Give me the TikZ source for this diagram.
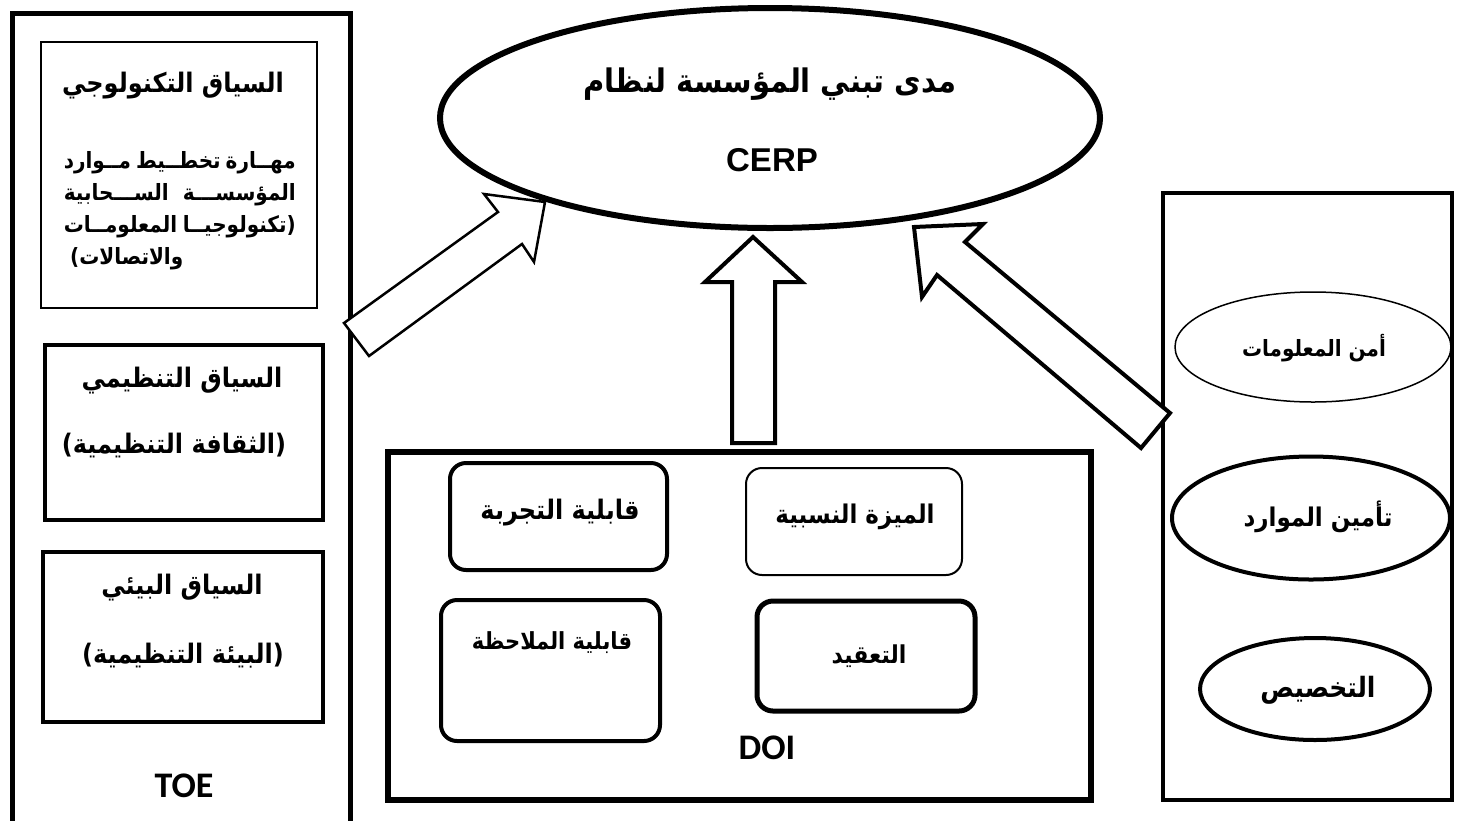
\documentclass[tikz,border=0pt]{standalone}
\usepackage{fontspec}
\setmainfont{Liberation Sans}
\newfontfamily\arfont[Script=Arabic]{DejaVu Sans}
\newfontfamily\calfont{Carlito}
\TeXXeTstate=1
\usetikzlibrary{shapes.geometric}
\newcommand\artxt[1]{\scalebox{1}[1.12]{\beginR #1\endR}}
\newcommand\arjust[1]{\scalebox{1}[1.12]{\hbox to 232pt{\beginR #1\endR}}}
\tikzset{
  boxframe/.style={draw, rectangle, inner sep=0pt},
  roundbox/.style={draw, rectangle, rounded corners=16pt, inner sep=0pt, minimum width=#1},
  oval/.style={draw, ellipse, inner sep=0pt},
  blockarrow/.style={draw, line join=miter, fill=white},
  ar/.style={font=\arfont\bfseries\fontsize{#1}{#1}\selectfont, inner sep=0pt},
  lat/.style={font=\bfseries\fontsize{#1}{#1}\selectfont, inner sep=0pt},
  cal/.style={font=\calfont\bfseries\fontsize{#1}{#1}\selectfont, inner sep=0pt},
}
\begin{document}
\begin{tikzpicture}[x=1pt,y=-1pt]
\useasboundingbox (0,0) rectangle (1458,820);
\fill[white] (0,0) rectangle (1458,820);

% ---------- TOE ----------
\coordinate (toeBL) at (12,830);
\coordinate (toeTL) at (12,13);
\coordinate (toeTR) at (350,13);
\coordinate (toeBR) at (350,830);
\draw[line width=5pt] (toeBL) -- (toeTL) -- (toeTR) -- (toeBR);

\node[boxframe, line width=2pt, minimum width=276pt, minimum height=266pt] (tech) at (179,175) {};
\node[ar=24] (techT) at (173,86) {\artxt{السياق التكنولوجي}};
\node[ar=20, anchor=east] (techL1) at (296,163) {\arjust{مهــارة\hfill تخطــيط\hfill مــوارد}};
\node[ar=20, anchor=east] (techL2) at (296,195) {\arjust{المؤسســـة\hfill الســـحابية}};
\node[ar=20, anchor=east] (techL3) at (296,227) {\arjust{(تكنولوجيــا\hfill المعلومــات}};
\node[ar=20, anchor=west] (techL4) at (70,259) {\artxt{والاتصالات)}};

\node[boxframe, line width=4pt, minimum width=278pt, minimum height=175pt] (org) at (184,432) {};
\node[ar=24] (orgT) at (182,381) {\artxt{السياق التنظيمي}};
\node[ar=24] (orgS) at (174,446) {\artxt{(الثقافة التنظيمية)}};

\node[boxframe, line width=4pt, minimum width=280pt, minimum height=170pt] (env) at (183,637) {};
\node[ar=24] (envT) at (182,588) {\artxt{السياق البيئي}};
\node[ar=24] (envS) at (183,656) {\artxt{(البيئة التنظيمية)}};

\node[cal=36] (toe) at (184,786) {TOE};

% ---------- goal ----------
\node[oval, line width=6pt, minimum width=660pt, minimum height=220pt] (goal) at (770,118) {};
\node[ar=29] (goalT) at (770,84) {\artxt{مدى تبني المؤسسة لنظام}};
\node[lat=33] (cerp) at (772,160) {CERP};

% ---------- DOI ----------
\node[boxframe, line width=6pt, minimum width=703pt, minimum height=348pt] (doi) at (739.5,626) {};
\node[roundbox=217pt, line width=4pt, minimum height=107pt] (trial) at (558.5,516.5) {};
\node[ar=24] (trialT) at (560,513) {\artxt{قابلية التجربة}};
\node[roundbox=216pt, line width=2pt, minimum height=107pt] (adv) at (854,521.5) {};
\node[ar=23] (advT) at (855,517) {\artxt{الميزة النسبية}};
\node[roundbox=219pt, line width=4pt, minimum height=141pt] (obs) at (550.5,670.5) {};
\node[ar=21] (obsT) at (552,643) {\artxt{قابلية الملاحظة}};
\node[roundbox=218pt, line width=5pt, minimum height=110pt] (cplx) at (866,656) {};
\node[ar=22] (cplxT) at (869,656) {\artxt{التعقيد}};
\node[cal=36] (doiT) at (767,748) {DOI};

% ---------- right ----------
\node[boxframe, line width=4pt, minimum width=289pt, minimum height=607pt] (sec) at (1307.5,496.5) {};
\node[oval, line width=1.5pt, minimum width=276pt, minimum height=110pt] (infosec) at (1313,347) {};
\node[ar=20] (infosecT) at (1314,348) {\artxt{أمن المعلومات}};
\node[oval, line width=4pt, minimum width=278pt, minimum height=123pt] (res) at (1311,518) {};
\node[ar=23] (resT) at (1318,517) {\artxt{تأمين الموارد}};
\node[oval, line width=4pt, minimum width=230pt, minimum height=102pt] (cust) at (1315,689) {};
\node[ar=25] (custT) at (1318,690) {\artxt{التخصيص}};

% ---------- block arrows ----------
\draw[blockarrow, line width=2.5pt] (545,202) -- (484,194) -- (498,212) -- (344,323) -- (369,356) -- (522,244) -- (534,262) -- cycle;
\draw[blockarrow, line width=4pt] (753,237) -- (802,282) -- (775,282) -- (775,443) -- (732,443) -- (732,282) -- (705,282) -- cycle;
\draw[blockarrow, line width=4pt] (914,227) -- (983,224) -- (965,242) -- (1170,413) -- (1141,448) -- (937,275) -- (922,297) -- cycle;
\end{tikzpicture}
\end{document}
